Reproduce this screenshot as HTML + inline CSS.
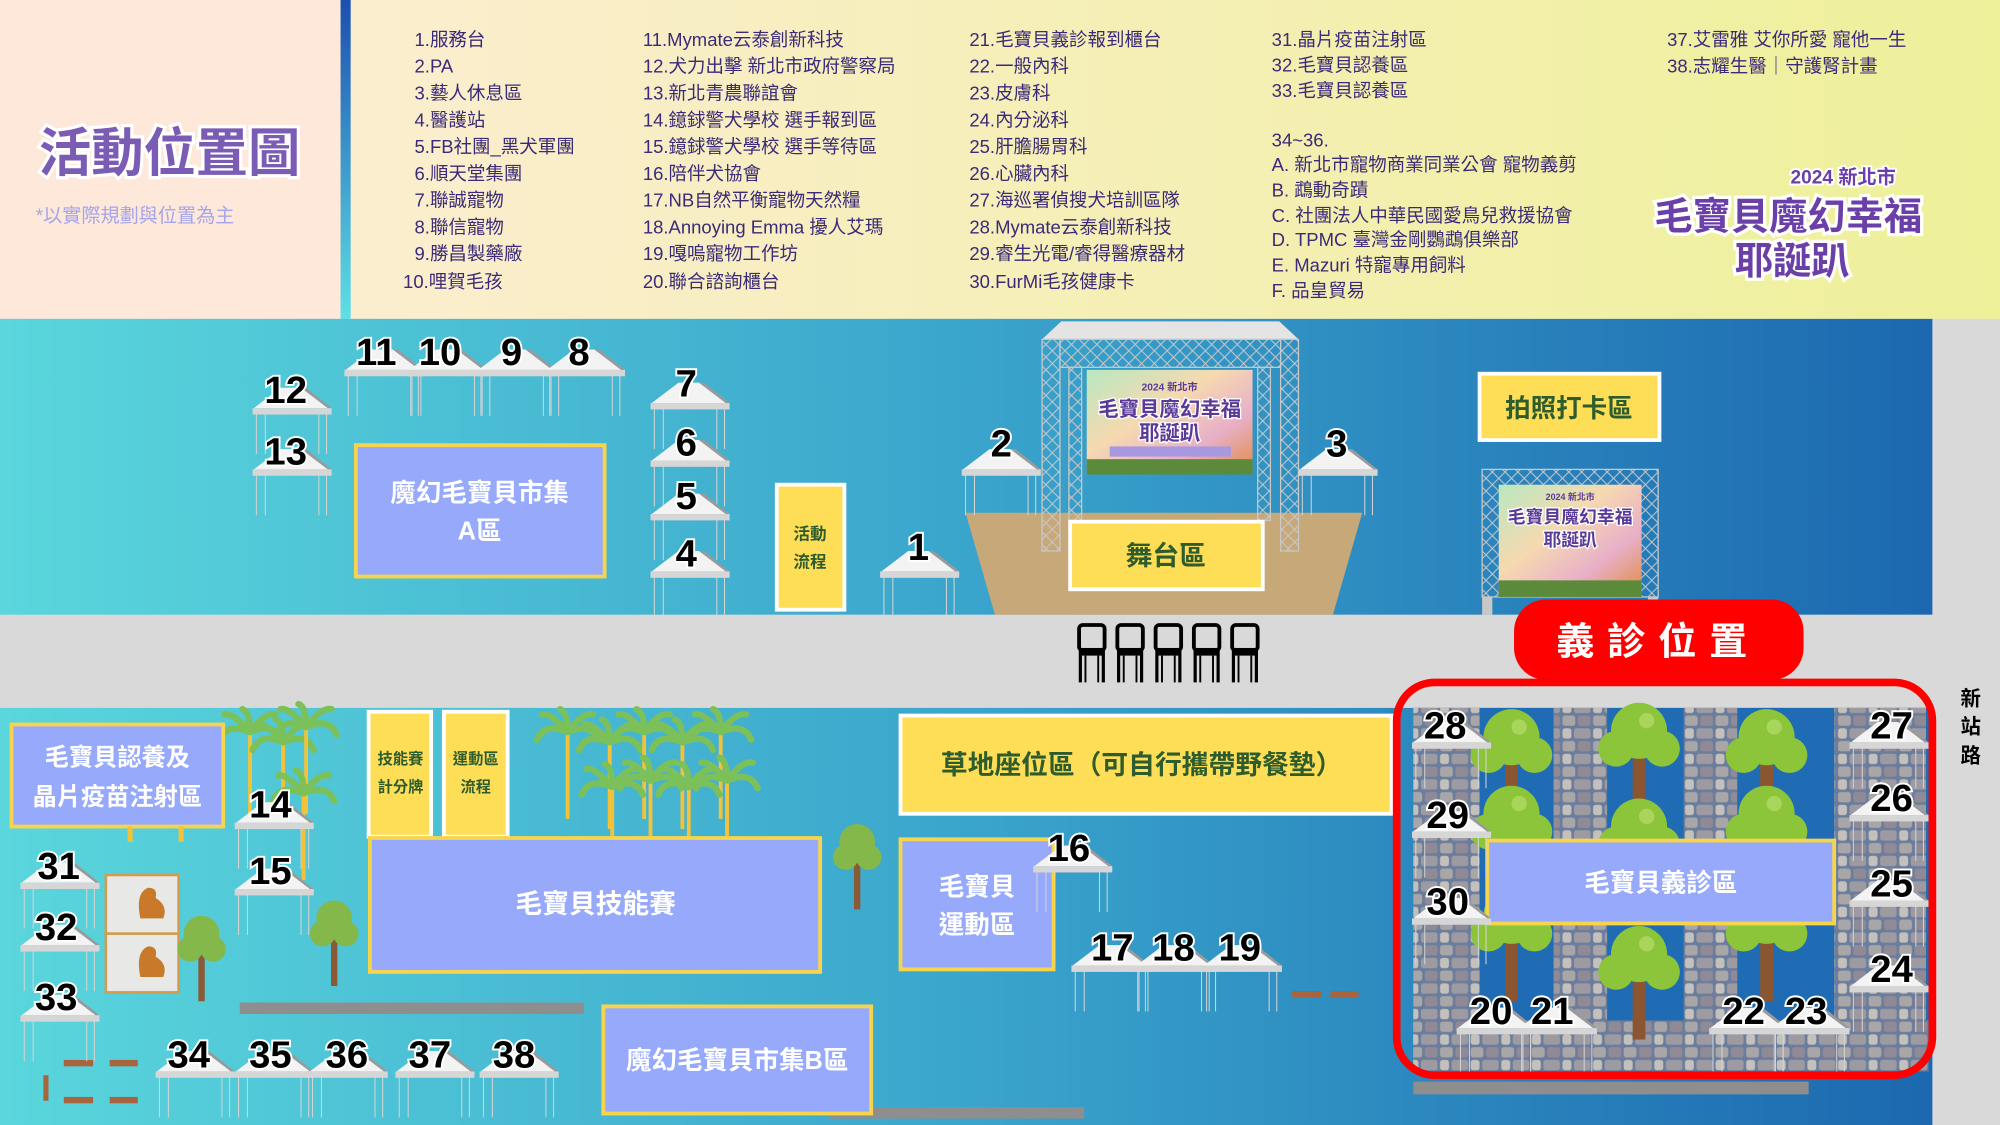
<!DOCTYPE html>
<html><head><meta charset="utf-8"><style>
html,body{margin:0;padding:0;width:2000px;height:1125px;overflow:hidden;background:#d9d9d9}
svg{display:block}
text{font-family:"Liberation Sans","Noto Sans CJK TC",sans-serif}
.lg{font-size:14.5px;fill:#3b2a78}
.num{font-size:30px;font-weight:bold;fill:#000;stroke:#fff;stroke-width:3;paint-order:stroke;text-anchor:middle}
.wt{fill:#fff;font-weight:bold;text-anchor:middle}
.gt{fill:#2f5c2c;font-weight:bold;text-anchor:middle}
</style></head><body>
<svg width="2000" height="1125" viewBox="0 0 1568 882" xmlns="http://www.w3.org/2000/svg">
<defs>
<linearGradient id="hdr" x1="0" x2="1"><stop offset="0" stop-color="#fbeecf"/><stop offset="1" stop-color="#eef09a"/></linearGradient>
<linearGradient id="bar" x1="0" y1="0" x2="0" y2="1"><stop offset="0" stop-color="#1c4fb0"/><stop offset="1" stop-color="#5fe0e6"/></linearGradient>
<linearGradient id="sea" x1="0" x2="1"><stop offset="0" stop-color="#5ad6dc"/><stop offset="0.5" stop-color="#3aa5cc"/><stop offset="1" stop-color="#1c68b0"/></linearGradient>
<linearGradient id="scr" x1="0" y1="0" x2="1" y2="1"><stop offset="0" stop-color="#b8e8c0"/><stop offset="0.4" stop-color="#f6d9b0"/><stop offset="0.7" stop-color="#e8b0c8"/><stop offset="1" stop-color="#e08a40"/></linearGradient>
<pattern id="truss" width="10" height="10" patternUnits="userSpaceOnUse"><path d="M0 0L10 10M10 0L0 10" stroke="#c8c8c8" stroke-width="0.8"/></pattern>
<pattern id="stone" width="24" height="20" patternUnits="userSpaceOnUse"><rect width="24" height="20" fill="#6b7d9c"/><rect x="1" y="1" width="10" height="8" rx="2" fill="#a9a6a8"/><rect x="13" y="1" width="10" height="8" rx="2" fill="#8f8a95"/><rect x="1" y="11" width="7" height="8" rx="2" fill="#c4c0bc"/><rect x="10" y="11" width="13" height="8" rx="2" fill="#9d9aa2"/></pattern>
<g id="tent"><line x1="-27" y1="4" x2="-27" y2="36" stroke="#d4d4d4" stroke-width="0.8"/><line x1="-20" y1="4" x2="-20" y2="36" stroke="#d4d4d4" stroke-width="0.8"/><line x1="22" y1="4" x2="22" y2="36" stroke="#d4d4d4" stroke-width="0.8"/><line x1="28" y1="4" x2="28" y2="36" stroke="#d4d4d4" stroke-width="0.8"/><polygon points="-29,0 -8,-16 8,-16 29,0" fill="#f3f3f3"/><polygon points="8,-16 29,0 32,0 12,-16" fill="#9a9a9a"/><rect x="-30" y="0" width="62" height="5" fill="#d6d6d6"/></g>
<g id="palm"><rect x="-1.5" y="0" width="3" height="70" fill="#f2c33a"/><path d="M0 2 Q-18 -6 -24 8 M0 2 Q-14 -14 -20 -12 M0 2 Q0 -14 -6 -16 M0 2 Q12 -14 20 -12 M0 2 Q18 -6 24 8" stroke="#7cc05a" stroke-width="5" fill="none" stroke-linecap="round"/></g>
<g id="tree"><rect x="-2.5" y="0" width="5" height="45" fill="#8a5a36"/><circle cx="0" cy="-8" r="14" fill="#84b84a"/><circle cx="-9" cy="4" r="10" fill="#84b84a"/><circle cx="9" cy="4" r="10" fill="#84b84a"/></g>
<g id="btree"><rect x="-5" y="0" width="10" height="55" fill="#8a5530"/><circle cx="0" cy="-12" r="22" fill="#8cc43a"/><circle cx="-18" cy="2" r="14" fill="#8cc43a"/><circle cx="18" cy="2" r="14" fill="#8cc43a"/><circle cx="6" cy="-20" r="6" fill="#a8d65a"/></g>
<g id="chair"><rect x="0" y="0" width="20" height="20" rx="3" fill="none" stroke="#000" stroke-width="3"/><rect x="0" y="18" width="20" height="6" fill="#000"/><line x1="1" y1="20" x2="1" y2="45" stroke="#000" stroke-width="2.5"/><line x1="19" y1="20" x2="19" y2="45" stroke="#000" stroke-width="2.5"/><line x1="5" y1="24" x2="5" y2="45" stroke="#000" stroke-width="1.5"/><line x1="15" y1="24" x2="15" y2="45" stroke="#000" stroke-width="1.5"/></g>
</defs>

<!-- header -->
<rect x="0" y="0" width="268" height="250" fill="#fde8d9"/>
<rect x="267" y="0" width="8" height="250" fill="url(#bar)"/>
<rect x="275" y="0" width="1293" height="250" fill="url(#hdr)"/>
<text x="133" y="134" text-anchor="middle" font-size="41" font-weight="bold" fill="#7b5cb4" stroke="#fff" stroke-width="5" paint-order="stroke">活動位置圖</text>
<text x="28" y="174" font-size="15" fill="#a6a4ea">*以實際規劃與位置為主</text>

<g class="lg">
<text x="325" y="36">1.服務台</text><text x="325" y="57">2.PA</text><text x="325" y="78">3.藝人休息區</text><text x="325" y="99">4.醫護站</text><text x="325" y="120">5.FB社團_黑犬軍團</text><text x="325" y="141">6.順天堂集團</text><text x="325" y="162">7.聯誠寵物</text><text x="325" y="183">8.聯信寵物</text><text x="325" y="204">9.勝昌製藥廠</text><text x="316" y="226">10.哩賀毛孩</text>
<text x="504" y="36">11.Mymate云泰創新科技</text><text x="504" y="57">12.犬力出擊 新北市政府警察局</text><text x="504" y="78">13.新北青農聯誼會</text><text x="504" y="99">14.鐿銶警犬學校 選手報到區</text><text x="504" y="120">15.鐿銶警犬學校 選手等待區</text><text x="504" y="141">16.陪伴犬協會</text><text x="504" y="162">17.NB自然平衡寵物天然糧</text><text x="504" y="183">18.Annoying Emma 擾人艾瑪</text><text x="504" y="204">19.嘎嗚寵物工作坊</text><text x="504" y="226">20.聯合諮詢櫃台</text>
<text x="760" y="36">21.毛寶貝義診報到櫃台</text><text x="760" y="57">22.一般內科</text><text x="760" y="78">23.皮膚科</text><text x="760" y="99">24.內分泌科</text><text x="760" y="120">25.肝膽腸胃科</text><text x="760" y="141">26.心臟內科</text><text x="760" y="162">27.海巡署偵搜犬培訓區隊</text><text x="760" y="183">28.Mymate云泰創新科技</text><text x="760" y="204">29.睿生光電/睿得醫療器材</text><text x="760" y="226">30.FurMi毛孩健康卡</text>
<text x="997" y="36">31.晶片疫苗注射區</text><text x="997" y="56">32.毛寶貝認養區</text><text x="997" y="76">33.毛寶貝認養區</text><text x="997" y="115">34~36.</text><text x="997" y="134">A. 新北市寵物商業同業公會 寵物義剪</text><text x="997" y="154">B. 鵡動奇蹟</text><text x="997" y="174">C. 社團法人中華民國愛鳥兒救援協會</text><text x="997" y="193">D. TPMC 臺灣金剛鸚鵡俱樂部</text><text x="997" y="213">E.  Mazuri 特寵專用飼料</text><text x="997" y="233">F.  品皇貿易</text>
<text x="1307" y="36">37.艾雷雅 艾你所愛 寵他一生</text><text x="1307" y="57">38.志耀生醫｜守護腎計畫</text>
</g>
<text x="1445" y="144" font-size="15" font-weight="bold" fill="#6a3fa8" stroke="#fff" stroke-width="3" paint-order="stroke" text-anchor="middle">2024 新北市</text>
<text x="1402" y="180" font-size="30" font-weight="bold" fill="#6a3fa8" stroke="#fff" stroke-width="5" paint-order="stroke" text-anchor="middle">毛寶貝魔幻幸福</text>
<text x="1405" y="215" font-size="30" font-weight="bold" fill="#6a3fa8" stroke="#fff" stroke-width="5" paint-order="stroke" text-anchor="middle">耶誕趴</text>

<!-- upper map -->
<rect x="0" y="250" width="1515" height="232" fill="url(#sea)"/>
<rect x="279" y="349" width="195" height="103" fill="#97a9fb" stroke="#f6d54c" stroke-width="3"/>
<text x="376" y="393" class="wt" font-size="20">魔幻毛寶貝市集</text><text x="376" y="423" class="wt" font-size="20">A區</text>
<rect x="609" y="380" width="53" height="98" fill="#fedd57" stroke="#fff" stroke-width="3"/>
<text x="635" y="423" class="gt" font-size="13">活動</text><text x="635" y="445" class="gt" font-size="13">流程</text>

<!-- stage -->
<polygon points="757,402 1068,402 1045,482 780,482" fill="#c7a878"/>
<polygon points="832,252 1003,252 1018,266 817,266" fill="#e4e4e4"/>
<rect x="817" y="266" width="14" height="166" fill="url(#truss)" stroke="#c8c8c8"/>
<rect x="1004" y="266" width="14" height="166" fill="url(#truss)" stroke="#c8c8c8"/>
<rect x="831" y="266" width="173" height="22" fill="url(#truss)" stroke="#c8c8c8"/>
<rect x="838" y="288" width="10" height="120" fill="url(#truss)" stroke="#c8c8c8"/>
<rect x="986" y="288" width="10" height="120" fill="url(#truss)" stroke="#c8c8c8"/>
<rect x="852" y="290" width="130" height="82" fill="url(#scr)"/>
<text x="917" y="306" font-size="8" fill="#5a3a98" text-anchor="middle" font-weight="bold">2024 新北市</text>
<text x="917" y="326" font-size="16" fill="#5a3a98" text-anchor="middle" font-weight="bold" stroke="#fff" stroke-width="2" paint-order="stroke">毛寶貝魔幻幸福</text>
<text x="917" y="345" font-size="16" fill="#5a3a98" text-anchor="middle" font-weight="bold" stroke="#fff" stroke-width="2" paint-order="stroke">耶誕趴</text>
<rect x="870" y="350" width="95" height="8" fill="#a898e0"/>
<rect x="852" y="360" width="130" height="12" fill="#5a8a3a"/>
<rect x="839" y="409" width="151" height="53" fill="#fedd57" stroke="#fff" stroke-width="3"/>
<text x="914" y="443" class="gt" font-size="21">舞台區</text>

<rect x="1160" y="293" width="141" height="52" fill="#fedd57" stroke="#fff" stroke-width="3"/>
<text x="1230" y="327" class="gt" font-size="20">拍照打卡區</text>
<rect x="1162" y="368" width="138" height="100" fill="url(#truss)" stroke="#c8c8c8"/>
<rect x="1175" y="380" width="112" height="88" fill="url(#scr)"/>
<text x="1231" y="392" font-size="7" fill="#5a3a98" text-anchor="middle" font-weight="bold">2024 新北市</text>
<text x="1231" y="410" font-size="14" fill="#5a3a98" text-anchor="middle" font-weight="bold" stroke="#fff" stroke-width="2" paint-order="stroke">毛寶貝魔幻幸福</text>
<text x="1231" y="428" font-size="14" fill="#5a3a98" text-anchor="middle" font-weight="bold" stroke="#fff" stroke-width="2" paint-order="stroke">耶誕趴</text>
<rect x="1175" y="455" width="112" height="13" fill="#5a8a3a"/>
<rect x="1162" y="468" width="8" height="14" fill="#c8c8c8"/><rect x="1292" y="468" width="8" height="14" fill="#c8c8c8"/>

<!-- upper tents -->
<use href="#tent" x="300" y="290"/><use href="#tent" x="350" y="290"/><use href="#tent" x="404" y="290"/><use href="#tent" x="458" y="290"/>
<use href="#tent" x="228" y="320"/><use href="#tent" x="228" y="368"/>
<use href="#tent" x="540" y="316"/><use href="#tent" x="540" y="361"/><use href="#tent" x="540" y="403"/><use href="#tent" x="540" y="448"/>
<use href="#tent" x="720" y="448"/><use href="#tent" x="784" y="368"/><use href="#tent" x="1048" y="368"/>
<text class="num" x="295" y="286">11</text><text class="num" x="345" y="286">10</text><text class="num" x="401" y="286">9</text><text class="num" x="454" y="286">8</text>
<text class="num" x="224" y="316">12</text><text class="num" x="224" y="364">13</text>
<text class="num" x="538" y="311">7</text><text class="num" x="538" y="357">6</text><text class="num" x="538" y="399">5</text><text class="num" x="538" y="444">4</text>
<text class="num" x="720" y="439">1</text><text class="num" x="785" y="358">2</text><text class="num" x="1048" y="358">3</text>

<!-- road -->
<rect x="0" y="482" width="1568" height="73" fill="#d9d9d9"/>
<use href="#chair" x="846" y="490"/><use href="#chair" x="876" y="490"/><use href="#chair" x="906" y="490"/><use href="#chair" x="936" y="490"/><use href="#chair" x="966" y="490"/>

<!-- lower map -->
<rect x="0" y="555" width="1515" height="327" fill="url(#sea)"/>

<!-- palms -->
<use href="#palm" x="196" y="572"/><use href="#palm" x="222" y="580"/><use href="#palm" x="240" y="568"/><use href="#palm" x="238" y="620"/>
<use href="#palm" x="445" y="572"/><use href="#palm" x="478" y="580"/><use href="#palm" x="505" y="572"/><use href="#palm" x="535" y="580"/><use href="#palm" x="565" y="572"/>
<use href="#palm" x="480" y="615"/><use href="#palm" x="510" y="610"/><use href="#palm" x="540" y="615"/><use href="#palm" x="570" y="610"/>

<rect x="9" y="568" width="166" height="80" fill="#97a9fb" stroke="#f6d54c" stroke-width="3"/>
<text x="92" y="600" class="wt" font-size="19">毛寶貝認養及</text><text x="92" y="631" class="wt" font-size="19">晶片疫苗注射區</text>
<rect x="100" y="648" width="4" height="12" fill="#f2c33a"/><rect x="140" y="648" width="4" height="12" fill="#f2c33a"/>

<rect x="289" y="558" width="49" height="98" fill="#fedd57" stroke="#fff" stroke-width="3"/>
<text x="314" y="599" class="gt" font-size="12">技能賽</text><text x="314" y="621" class="gt" font-size="12">計分牌</text>
<rect x="348" y="558" width="50" height="98" fill="#fedd57" stroke="#fff" stroke-width="3"/>
<text x="373" y="599" class="gt" font-size="12">運動區</text><text x="373" y="621" class="gt" font-size="12">流程</text>

<rect x="290" y="657" width="353" height="105" fill="#97a9fb" stroke="#f6d54c" stroke-width="3"/>
<text x="467" y="716" class="wt" font-size="21">毛寶貝技能賽</text>
<rect x="706" y="561" width="385" height="77" fill="#fedd57" stroke="#fff" stroke-width="3"/>
<text x="895" y="607" class="gt" font-size="21">草地座位區（可自行攜帶野餐墊）</text>
<rect x="706" y="658" width="120" height="102" fill="#97a9fb" stroke="#f6d54c" stroke-width="3"/>
<text x="766" y="702" class="wt" font-size="20">毛寶貝</text><text x="766" y="732" class="wt" font-size="20">運動區</text>
<rect x="650" y="868" width="200" height="9" fill="#8e8e8e"/>
<rect x="473" y="789" width="210" height="84" fill="#97a9fb" stroke="#f6d54c" stroke-width="3"/>
<text x="578" y="838" class="wt" font-size="20">魔幻毛寶貝市集B區</text>
<rect x="188" y="786" width="270" height="9" fill="#8e8e8e"/>

<!-- cages -->
<rect x="83" y="686" width="57" height="46" fill="#e8e8e6" stroke="#d59a4a" stroke-width="2"/>
<rect x="83" y="732" width="57" height="46" fill="#e8e8e6" stroke="#d59a4a" stroke-width="2"/>
<path d="M110 720 q-4 -20 6 -24 q8 0 6 8 q10 6 6 16z" fill="#c87a2a"/><path d="M110 766 q-4 -20 6 -24 q8 0 6 8 q10 6 6 16z" fill="#c87a2a"/>
<use href="#tree" x="158" y="740"/><use href="#tree" x="262" y="728"/><use href="#tree" x="672" y="668"/>

<!-- brown dashes -->
<rect x="50" y="831" width="23" height="5" fill="#a8643c"/><rect x="86" y="831" width="22" height="5" fill="#a8643c"/>
<rect x="50" y="860" width="23" height="5" fill="#a8643c"/><rect x="86" y="860" width="22" height="5" fill="#a8643c"/>
<rect x="34" y="843" width="4" height="20" fill="#a8643c"/>
<rect x="1013" y="777" width="23" height="5" fill="#a8643c"/><rect x="1043" y="777" width="22" height="5" fill="#a8643c"/>

<!-- lower tents -->
<use href="#tent" x="214" y="645"/><use href="#tent" x="214" y="697"/>
<use href="#tent" x="46" y="692"/><use href="#tent" x="46" y="741"/><use href="#tent" x="46" y="796"/>
<use href="#tent" x="152" y="840"/><use href="#tent" x="214" y="840"/><use href="#tent" x="272" y="840"/><use href="#tent" x="340" y="840"/><use href="#tent" x="406" y="840"/>
<use href="#tent" x="840" y="679"/><use href="#tent" x="870" y="757"/><use href="#tent" x="920" y="757"/><use href="#tent" x="973" y="757"/>
<text class="num" x="212" y="641">14</text><text class="num" x="212" y="693">15</text>
<text class="num" x="46" y="689">31</text><text class="num" x="44" y="737">32</text><text class="num" x="44" y="792">33</text>
<text class="num" x="148" y="837">34</text><text class="num" x="212" y="837">35</text><text class="num" x="272" y="837">36</text><text class="num" x="337" y="837">37</text><text class="num" x="403" y="837">38</text>
<text class="num" x="838" y="675">16</text><text class="num" x="872" y="753">17</text><text class="num" x="920" y="753">18</text><text class="num" x="972" y="753">19</text>

<!-- clinic -->
<rect x="1108" y="555" width="404" height="285" fill="#1f6cb4"/>
<rect x="1108" y="555" width="52" height="285" fill="url(#stone)"/>
<rect x="1218" y="555" width="42" height="285" fill="url(#stone)"/>
<rect x="1320" y="555" width="42" height="285" fill="url(#stone)"/>
<rect x="1438" y="555" width="72" height="285" fill="url(#stone)"/>
<rect x="1108" y="800" width="404" height="40" fill="url(#stone)"/>
<use href="#btree" x="1185" y="590"/><use href="#btree" x="1285" y="585"/><use href="#btree" x="1385" y="590"/>
<use href="#btree" x="1185" y="650"/><use href="#btree" x="1285" y="660"/><use href="#btree" x="1385" y="650"/>
<use href="#btree" x="1185" y="730"/><use href="#btree" x="1285" y="760"/><use href="#btree" x="1385" y="730"/>
<rect x="1108" y="848" width="310" height="10" fill="#8e8e8e"/>
<rect x="1166" y="659" width="272" height="65" fill="#97a9fb" stroke="#f6d54c" stroke-width="3"/>
<text x="1302" y="699" class="wt" font-size="20">毛寶貝義診區</text>
<use href="#tent" x="1137" y="582"/><use href="#tent" x="1137" y="652"/><use href="#tent" x="1137" y="720"/>
<use href="#tent" x="1480" y="582"/><use href="#tent" x="1480" y="639"/><use href="#tent" x="1480" y="706"/><use href="#tent" x="1480" y="773"/>
<use href="#tent" x="1172" y="806"/><use href="#tent" x="1220" y="806"/><use href="#tent" x="1370" y="806"/><use href="#tent" x="1418" y="806"/>
<text class="num" x="1133" y="579">28</text><text class="num" x="1135" y="649">29</text><text class="num" x="1135" y="717">30</text>
<text class="num" x="1483" y="579">27</text><text class="num" x="1483" y="636">26</text><text class="num" x="1483" y="703">25</text><text class="num" x="1483" y="770">24</text>
<text class="num" x="1169" y="803">20</text><text class="num" x="1217" y="803">21</text><text class="num" x="1367" y="803">22</text><text class="num" x="1416" y="803">23</text>
<rect x="1095" y="535" width="420" height="308" rx="30" fill="none" stroke="#f00" stroke-width="6"/>
<rect x="1187" y="470" width="227" height="63" rx="25" fill="#f00"/>
<text x="1300" y="513" font-size="30" font-weight="bold" fill="#fff" text-anchor="middle" letter-spacing="10">義診位置</text>

<text x="1545" y="553" font-size="16" font-weight="bold" text-anchor="middle">新</text>
<text x="1545" y="575" font-size="16" font-weight="bold" text-anchor="middle">站</text>
<text x="1545" y="598" font-size="16" font-weight="bold" text-anchor="middle">路</text>
</svg>
</body></html>
